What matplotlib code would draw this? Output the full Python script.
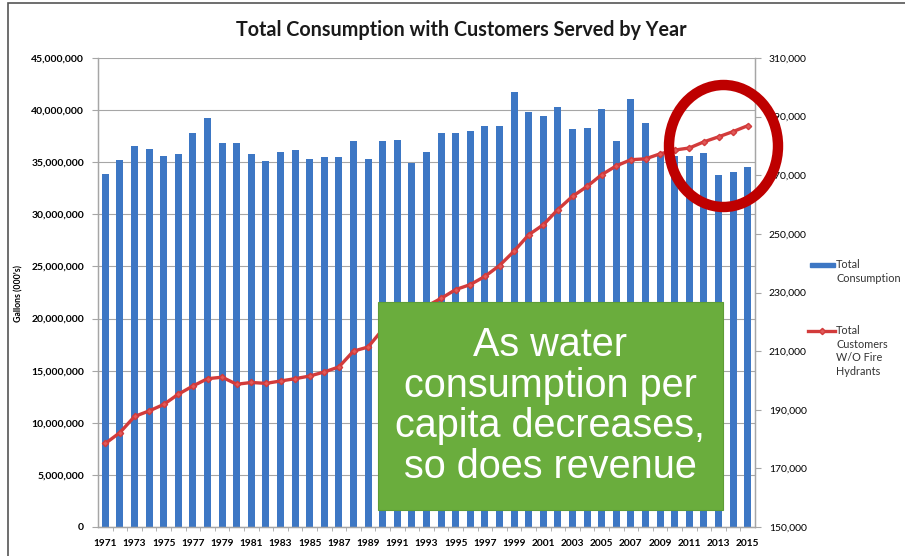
import matplotlib
matplotlib.use("Agg")
import matplotlib.pyplot as plt
from matplotlib.patches import Rectangle, Ellipse
from matplotlib.lines import Line2D
from matplotlib.ticker import FuncFormatter, MultipleLocator

plt.rcParams['font.family'] = ['Lato', 'DejaVu Sans']

# data
years = list(range(1971, 2016))
consumption = [33.9, 35.2, 36.6, 36.3, 35.6, 35.8, 37.8, 39.2, 36.8, 36.8,
               35.8, 35.1, 36.0, 36.2, 35.3, 35.5, 35.5, 37.0, 35.3, 37.0,
               37.1, 34.9, 36.0, 37.8, 37.8, 38.0, 38.5, 38.5, 41.7, 39.8,
               39.4, 40.3, 38.2, 38.3, 40.1, 37.0, 41.1, 38.8, 35.9, 35.6,
               35.6, 35.9, 33.8, 34.1, 34.5]            # millions of gallons (000's)
customers = [178.5, 182.2, 187.7, 189.6, 191.8, 195.3, 198.1, 200.6, 201.1, 198.7,
             199.3, 199.0, 199.8, 200.6, 201.5, 202.9, 204.6, 210.0, 211.4, 217.4,
             220.5, 223.0, 225.3, 228.0, 231.0, 232.7, 235.5, 239.2, 244.1, 249.7,
             253.1, 258.3, 262.8, 266.2, 270.2, 273.2, 275.3, 275.6, 277.3, 278.6,
             279.3, 281.4, 283.1, 284.9, 286.9]          # thousands
consumption = [v * 1e6 for v in consumption]
customers = [v * 1e3 for v in customers]
right_ticks = list(range(150000, 310001, 20000))

title = "Total Consumption with Customers Served by Year"
callout = "As water\nconsumption per\ncapita decreases,\nso does revenue"

blue = '#3D77C4'
red = '#D23B3B'
grid_col = '#A6A6A6'

fig = plt.figure(figsize=(9.05, 5.56), dpi=100)
W, H = 905.0, 556.0
ax = fig.add_axes([98 / W, 1 - 527 / H, (755 - 98) / W, (527 - 58) / H])
ax2 = ax.twinx()

x = list(range(len(years)))
ax.bar(x, consumption, width=0.48, color=blue, zorder=2)
ax.set_xlim(-0.5, len(years) - 0.5)
ax.set_ylim(0, 45e6)
ax.yaxis.set_major_locator(MultipleLocator(5e6))
ax.yaxis.set_major_formatter(FuncFormatter(lambda v, p: f"{v:,.0f}"))
ax.grid(axis='y', color=grid_col, lw=0.8, zorder=0)
ax.set_axisbelow(True)
ax.set_xticks(x[::2])
ax.set_xticklabels([str(y) for y in years[::2]])
ax.set_xticks([i + 0.5 for i in x[:-1]], minor=True)
ax.tick_params(axis='x', which='major', length=0, pad=9, labelsize=7.3)
ax.tick_params(axis='x', which='minor', length=3, color=grid_col)
ax.tick_params(axis='y', length=4, color=grid_col, pad=6, labelsize=7.5)
for lab in ax.get_xticklabels() + ax.get_yticklabels():
    lab.set_fontweight('bold')

ax2.plot(x, customers, color=red, lw=2.4, marker='D', ms=3.2,
         markerfacecolor='#E05A5A', markeredgecolor=red, zorder=3)
ax2.set_ylim(150000, 310000)
ax2.set_yticks(right_ticks)
ax2.yaxis.set_major_formatter(FuncFormatter(lambda v, p: f"{v:,.0f}"))
ax2.tick_params(axis='y', length=4, color=grid_col, pad=6, labelsize=7.5)

for a in (ax, ax2):
    a.spines['top'].set_visible(False)
    for s in ('left', 'right', 'bottom'):
        a.spines[s].set_color(grid_col)
        a.spines[s].set_linewidth(0.9)

fig.text(461 / W, 1 - 30 / H, title, ha='center', va='center',
         fontsize=14.2, fontweight='bold', color='#1a1a1a')
fig.text(19 / W, 1 - 294 / H, "Gallons (000's)", rotation=90,
         ha='center', va='center', fontsize=6.3, fontweight='bold')

# legend drawn by hand so the keys line up with the first line of each label
fig.add_artist(Rectangle((810 / W, 1 - 267 / H), 25 / W, 4 / H,
                         transform=fig.transFigure, color=blue))
fig.text(836 / W, 1 - 259 / H, "Total\nConsumption", ha='left', va='top',
         fontsize=7.8, linespacing=1.3, color='#333333')
fig.add_artist(Line2D([808 / W, 835 / W], [1 - 331 / H, 1 - 331 / H],
                      transform=fig.transFigure, color=red, lw=2.4))
fig.add_artist(Line2D([821.5 / W], [1 - 331 / H], transform=fig.transFigure,
                      color=red, marker='D', ms=3.2, markerfacecolor='#E05A5A'))
fig.text(836 / W, 1 - 325 / H, "Total\nCustomers\nW/O Fire\nHydrants",
         ha='left', va='top', fontsize=7.8, linespacing=1.3, color='#333333')

# callout box and highlight ring
fig.add_artist(Rectangle((378 / W, 1 - 510 / H), (723 - 378) / W, (510 - 302) / H,
                         transform=fig.transFigure, facecolor='#6AAD3D',
                         edgecolor='#5E9C36', lw=0.8, zorder=5))
fig.text(550 / W, 1 - 406 / H, callout, ha='center', va='center',
         fontsize=28.5, color='white', family='Liberation Sans',
         linespacing=1.08, zorder=6)
fig.add_artist(Ellipse((723.5 / W, 1 - 146 / H), 109 / W, 122 / H,
                       transform=fig.transFigure, fill=False,
                       edgecolor='#BE0000', lw=7.5, zorder=7))

# outer frame of the slide image
fig.add_artist(Rectangle((8 / W, -0.02), 1.0, 1 - 3 / H + 0.02,
                         transform=fig.transFigure, fill=False,
                         edgecolor='#555555', lw=1.2, zorder=8))

fig.savefig("out.png", dpi=100)
